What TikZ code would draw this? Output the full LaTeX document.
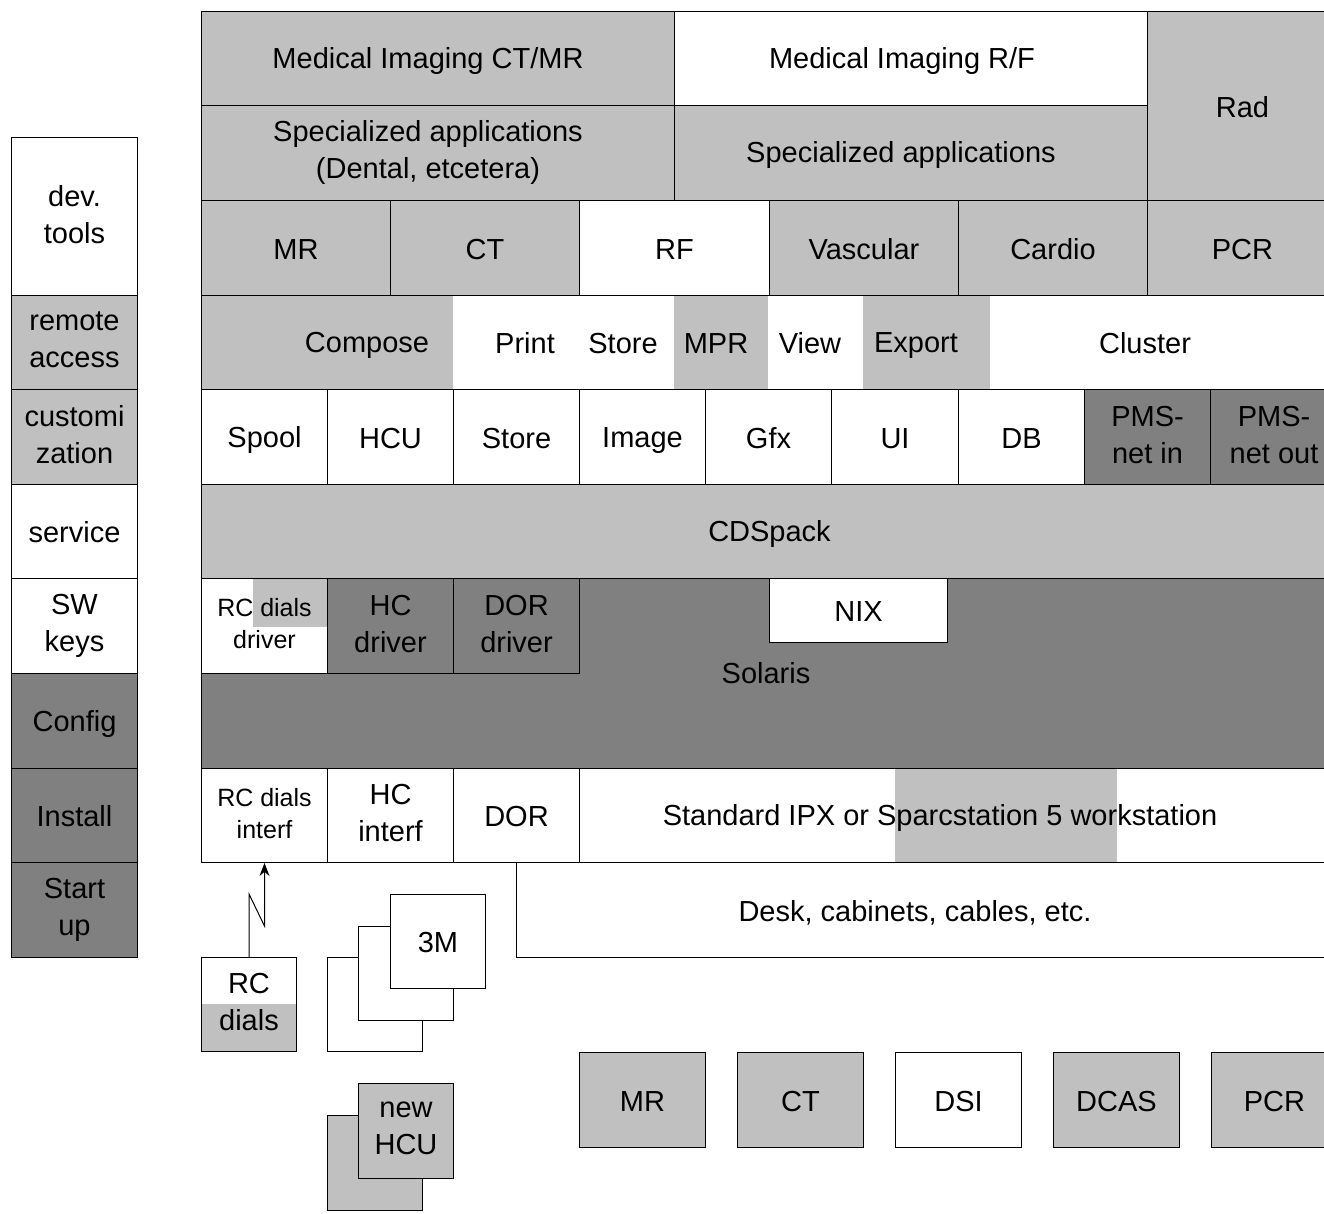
\documentclass[tikz,border=0pt]{standalone}
\usepackage{fontspec}
\setmainfont{Liberation Sans}
\usetikzlibrary{arrows.meta}
\definecolor{lg}{HTML}{C0C0C0}
\definecolor{dg}{HTML}{808080}
\newcommand{\mainf}{\fontsize{29}{37}\selectfont}
\newcommand{\smallf}{\fontsize{25}{32}\selectfont}
\newcommand{\mystrut}{\rule[-0.17em]{0pt}{1.1em}}
\tikzset{
  box/.style={draw, line width=1pt, inner sep=0pt, align=center, font=\mainf,
    execute at begin node={\mystrut}, execute at end node={\mystrut}},
  txt/.style={inner sep=0pt, align=center, font=\mainf,
    execute at begin node={\mystrut}, execute at end node={\mystrut}},
}
% name, x1, y1, x2, y2, fill, text
\newcommand{\bx}[7]{\node[box, fill=#6, minimum width={#4-#2}, minimum height={#5-#3}, anchor=north west] (#1) at (#2,#3) {#7};}
\newcommand{\sbx}[7]{\node[box, font=\smallf, fill=#6, minimum width={#4-#2}, minimum height={#5-#3}, anchor=north west] (#1) at (#2,#3) {#7};}
\begin{document}
\begin{tikzpicture}[x=1pt, y=-1pt]
\useasboundingbox (0,0) rectangle (1324,1214);
\clip (0,0) rectangle (1324,1214);
% ---------- left column ----------
\bx{dev}{11}{137}{137}{295}{white}{dev.\\tools}
\bx{remote}{11}{295}{137}{389}{lg}{remote\\access}
\bx{custom}{11}{389}{137}{484}{lg}{customi\\zation}
\bx{service}{11}{484}{137}{578}{white}{service}
\bx{swkeys}{11}{578}{137}{673}{white}{SW\\keys}
\bx{config}{11}{673}{137}{768}{dg}{Config}
\bx{install}{11}{768}{137}{862}{dg}{Install}
\bx{startup}{11}{862}{137}{957}{dg}{Start\\up}
% ---------- row 1-2 ----------
\bx{mict}{201}{11}{674}{105}{lg}{}
\node[txt] (micttxt) at (428,58) {Medical Imaging CT/MR};
\bx{mirf}{674}{11}{1147}{105}{white}{}
\node[txt] (mirftxt) at (902,58) {Medical Imaging R/F};
\bx{rad}{1147}{11}{1337}{200}{lg}{Rad}
\bx{spd}{201}{105}{674}{200}{lg}{}
\node[txt] (spdtxt) at (428,152.5) {Specialized applications\\(Dental, etcetera)};
\bx{spa}{674}{105}{1147}{200}{lg}{}
\node[txt] (spatxt) at (901,152.5) {Specialized applications};
% ---------- row 3 ----------
\bx{mr}{201}{200}{390}{295}{lg}{MR}
\bx{ct}{390}{200}{579}{295}{lg}{CT}
\bx{rf}{579}{200}{769}{295}{white}{RF}
\bx{vasc}{769}{200}{958}{295}{lg}{Vascular}
\bx{cardio}{958}{200}{1147}{295}{lg}{Cardio}
\bx{pcr}{1147}{200}{1337}{295}{lg}{PCR}
% ---------- row 4 ----------
\fill[white] (201,295) rectangle (1337,389);
\fill[lg] (201,295) rectangle (453,389);
\fill[lg] (674,295) rectangle (768,389);
\fill[lg] (863,295) rectangle (990,389);
\bx{row4}{201}{295}{1337}{389}{none}{}
\node[txt] (compose) at (367,342) {Compose};
\node[txt] (print) at (525,342) {Print};
\node[txt] (store1) at (623,342) {Store};
\node[txt] (mpr) at (716,342) {MPR};
\node[txt] (view) at (810,342) {View};
\node[txt] (export) at (916,342) {Export};
\node[txt] (cluster) at (1145,342) {Cluster};
% ---------- row 5 ----------
\bx{spool}{201}{389}{327}{484}{white}{Spool}
\bx{hcu}{327}{389}{453}{484}{white}{HCU}
\bx{store2}{453}{389}{579}{484}{white}{Store}
\bx{image}{579}{389}{705}{484}{white}{Image}
\bx{gfx}{705}{389}{831}{484}{white}{Gfx}
\bx{ui}{831}{389}{958}{484}{white}{UI}
\bx{db}{958}{389}{1084}{484}{white}{DB}
\bx{pmsin}{1084}{389}{1210}{484}{dg}{PMS-\\net in}
\bx{pmsout}{1210}{389}{1337}{484}{dg}{PMS-\\net out}
% ---------- row 6 ----------
\bx{cdspack}{201}{484}{1337}{578}{lg}{CDSpack}
% ---------- Solaris ----------
\bx{solbox}{201}{578}{1337}{768}{dg}{}
\node[txt] (solaris) at (766,672) {Solaris};
\fill[white] (201,578) rectangle (327,673);
\fill[lg] (253,578) rectangle (327,627);
\sbx{rcdd}{201}{578}{327}{673}{none}{RC dials\\driver}
\bx{hcd}{327}{578}{453}{673}{dg}{HC\\driver}
\bx{dord}{453}{578}{579}{673}{dg}{DOR\\driver}
\bx{nix}{769}{578}{947}{642}{white}{NIX}
% ---------- hardware row ----------
\sbx{rcdi}{201}{768}{327}{862}{white}{RC dials\\interf}
\bx{hci}{327}{768}{453}{862}{white}{HC\\interf}
\bx{dor}{453}{768}{579}{862}{white}{DOR}
\fill[white] (579,768) rectangle (1337,862);
\fill[lg] (895,768) rectangle (1117,862);
\bx{std}{579}{768}{1337}{862}{none}{}
\node[txt] (stdtxt) at (940,815) {Standard IPX or Sparcstation 5 workstation};
\bx{desk}{516}{862}{1337}{957}{white}{}
\node[txt] (desktxt) at (915,910) {Desk, cabinets, cables, etc.};
% ---------- RC dials ----------
\fill[white] (201,957) rectangle (296,1051);
\fill[lg] (201,1004) rectangle (296,1051);
\bx{rcd}{201}{957}{296}{1051}{none}{RC\\dials}
\draw[line width=1pt, -{Stealth[length=13pt,width=10pt]}] (rcd.north) -- ++(0,-63) -- ++(15.5,32) -- (rcdi.south);
% ---------- 3M ----------
\bx{tmb}{327}{957}{422}{1051}{white}{}
\bx{tmm}{358}{926}{453}{1020}{white}{}
\bx{tmf}{390}{894}{485}{988}{white}{3M}
% ---------- new HCU ----------
\bx{nhb}{327}{1115}{422}{1210}{lg}{}
\bx{nhf}{358}{1083}{453}{1178}{lg}{new\\HCU}
% ---------- modalities ----------
\bx{bmr}{579}{1052}{705}{1147}{lg}{MR}
\bx{bct}{737}{1052}{863}{1147}{lg}{CT}
\bx{bdsi}{895}{1052}{1021}{1147}{white}{DSI}
\bx{bdcas}{1053}{1052}{1179}{1147}{lg}{DCAS}
\bx{bpcr}{1211}{1052}{1337}{1147}{lg}{PCR}
\end{tikzpicture}
\end{document}
